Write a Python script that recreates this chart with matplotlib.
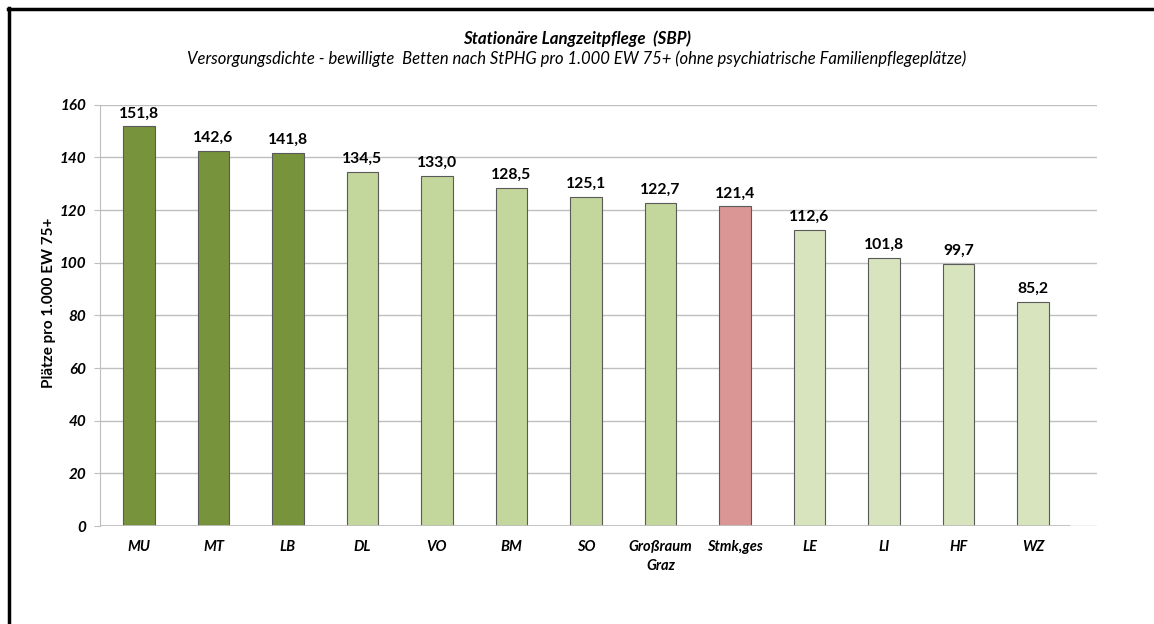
import matplotlib
matplotlib.use("Agg")
import matplotlib.pyplot as plt
from matplotlib.lines import Line2D

regions = ["MU", "MT", "LB", "DL", "VO", "BM", "SO", "Großraum\nGraz", "Stmk,ges",
           "LE", "LI", "HF", "WZ"]
values = [151.8, 142.6, 141.8, 134.5, 133.0, 128.5, 125.1, 122.7, 121.4,
          112.6, 101.8, 99.7, 85.2]
colors = ["#77933C"] * 3 + ["#C3D69B"] * 5 + ["#D99694"] + ["#D7E4BD"] * 4

plt.rcParams["font.family"] = ["Lato", "DejaVu Sans"]

fig = plt.figure(figsize=(11.54, 6.24), dpi=100)
ax = fig.add_axes([0.0867, 0.157, 0.8639, 0.675])

x = list(range(len(regions)))
ax.bar(x, values, width=0.42, color=colors, edgecolor="#5a5a5a", linewidth=0.8, zorder=3)
for xi, v in zip(x, values):
    ax.text(xi, v + 2.3, f"{v:.1f}".replace(".", ","), ha="center", va="bottom",
            fontsize=11.3, fontweight="bold")

ax.set_ylim(0, 160)
ax.set_xlim(-0.523, 12.86)
ax.set_yticks(range(0, 161, 20))
ax.set_yticklabels([str(t) for t in range(0, 161, 20)], fontsize=11,
                   fontweight="bold", fontstyle="italic")
ax.set_xticks(x)
ax.set_xticklabels(regions, fontsize=10.5, fontweight="bold", fontstyle="italic",
                   linespacing=1.5)
ax.tick_params(axis="x", length=0, pad=10)
ax.tick_params(axis="y", length=4, color="#bfbfbf", pad=6)
ax.yaxis.grid(True, color="#bfbfbf", linewidth=1, zorder=0)
for s in ["top", "right", "bottom"]:
    ax.spines[s].set_visible(False)
ax.spines["left"].set_color("#bfbfbf")
ax.hlines(0, -0.523, 12.5, color="#bfbfbf", linewidth=2, zorder=4)

ax.set_ylabel("Plätze pro 1.000 EW 75+", fontsize=11, fontweight="bold")
ax.yaxis.set_label_coords(-0.044, 0.53)

fig.text(0.5, 0.938, "Stationäre Langzeitpflege  (SBP)", ha="center", va="center",
         fontsize=12.2, fontweight="bold", fontstyle="italic")
fig.text(0.5, 0.906, "Versorgungsdichte - bewilligte  Betten nach StPHG pro 1.000 EW 75+ "
         "(ohne psychiatrische Familienpflegeplätze)", ha="center", va="center",
         fontsize=12, fontstyle="italic")

# black frame at top and left
fig.add_artist(Line2D([0.007, 1.0], [0.986, 0.986], color="black", linewidth=2.5,
                      transform=fig.transFigure))
fig.add_artist(Line2D([0.008, 0.008], [0.0, 0.987], color="black", linewidth=2.5,
                      transform=fig.transFigure))

fig.savefig("out.png", dpi=100)
